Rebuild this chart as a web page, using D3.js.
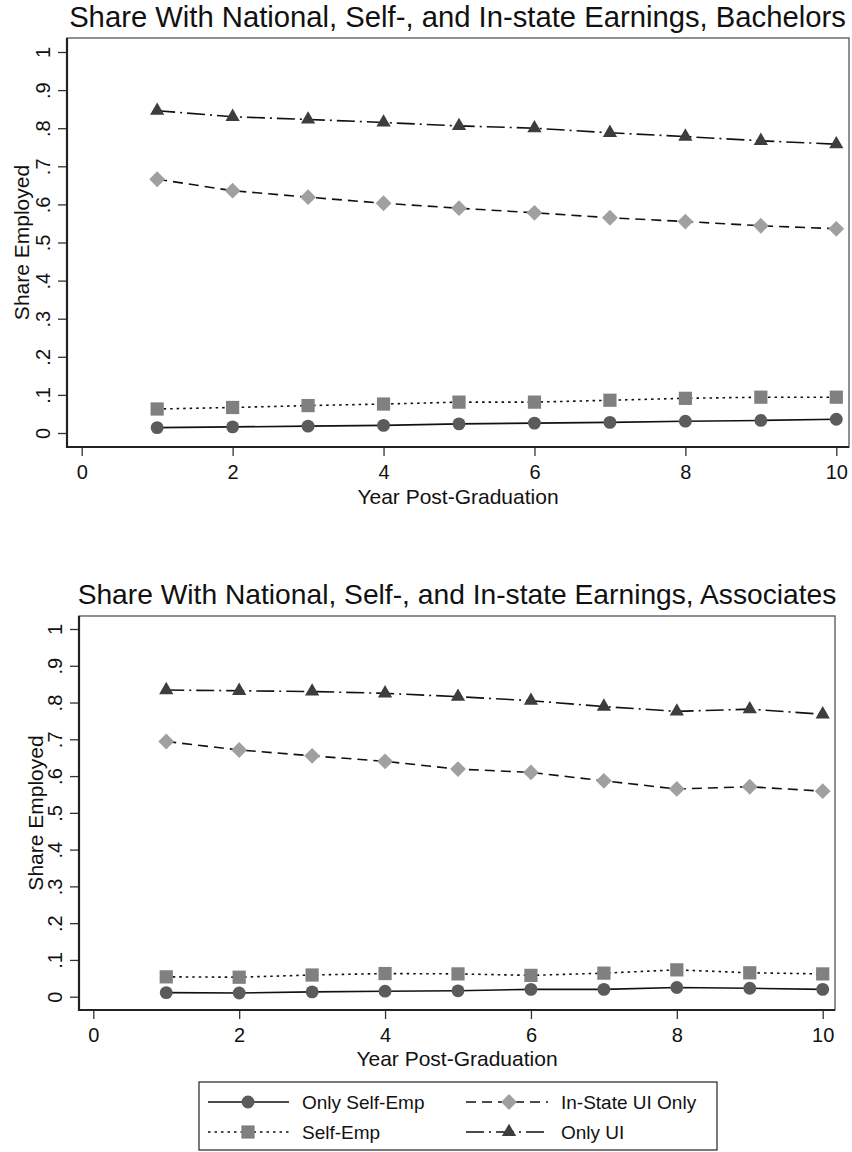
<!DOCTYPE html>
<html><head><meta charset="utf-8">
<script src="https://cdn.jsdelivr.net/npm/d3@7"></script>
<style>
body{margin:0;background:#fff}
svg{display:block}
text{font-family:"Liberation Sans",Arial,sans-serif;fill:#111}
</style>
</head><body>
<svg id="c" width="852" height="1152"></svg>
<script>
// ---------------- DATA ----------------
const years = [1, 2, 3, 4, 5, 6, 7, 8, 9, 10];
const xTicks = [0, 2, 4, 6, 8, 10];
const yTicks = [0, 0.1, 0.2, 0.3, 0.4, 0.5, 0.6, 0.7, 0.8, 0.9, 1];
const yTickLabels = ["0", ".1", ".2", ".3", ".4", ".5", ".6", ".7", ".8", ".9", "1"];
const seriesNames = ["Only Self-Emp", "Self-Emp", "In-State UI Only", "Only UI"];
const titles = [
  "Share With National, Self-, and In-state Earnings, Bachelors",
  "Share With National, Self-, and In-state Earnings, Associates"
];
const xTitle = "Year Post-Graduation";
const yTitle = "Share Employed";

// Bachelors
const bachOnlySelfEmp = [0.014, 0.016, 0.018, 0.020, 0.024, 0.026, 0.028, 0.031, 0.033, 0.036];
const bachSelfEmp     = [0.063, 0.067, 0.072, 0.076, 0.081, 0.081, 0.086, 0.091, 0.094, 0.094];
const bachInStateUI   = [0.666, 0.636, 0.619, 0.603, 0.590, 0.578, 0.565, 0.555, 0.544, 0.536];
const bachOnlyUI      = [0.846, 0.830, 0.823, 0.815, 0.806, 0.800, 0.788, 0.778, 0.767, 0.758];
// Associates
const assocOnlySelfEmp = [0.011, 0.010, 0.013, 0.015, 0.016, 0.020, 0.020, 0.025, 0.023, 0.020];
const assocSelfEmp     = [0.054, 0.053, 0.059, 0.063, 0.062, 0.058, 0.064, 0.073, 0.065, 0.062];
const assocInStateUI   = [0.694, 0.671, 0.655, 0.640, 0.619, 0.610, 0.587, 0.565, 0.571, 0.559];
const assocOnlyUI      = [0.834, 0.832, 0.830, 0.825, 0.816, 0.805, 0.789, 0.776, 0.782, 0.768];

// ---------------- STYLES ----------------
const styles = [
  {symbol: d3.symbolCircle,   size: 130, fill: "#5b5b5b", dash: null,          rot: 0},
  {symbol: d3.symbolSquare,   size: 175, fill: "#808080", dash: "2.5,4",       rot: 0},
  {symbol: d3.symbolSquare,   size: 125, fill: "#a0a0a0", dash: "10,6",        rot: 45},
  {symbol: d3.symbolTriangle, size: 88,  fill: "#3d3d3d", dash: "18,5,2,5",    rot: 0}
];

const svg = d3.select("#c");

const panels = [
  {title: titles[0], data: [bachOnlySelfEmp, bachSelfEmp, bachInStateUI, bachOnlyUI],
   frame: {l: 67, t: 38, r: 849, b: 447}, xr: [81.7, 836.3], yr: [433, 52],
   titleY: 27, titleW: 777, titleX: 457.5,
   yLabX: 50, xLabY: 479, xTitleY: 504, yTitleX: 29},
  {title: titles[1], data: [assocOnlySelfEmp, assocSelfEmp, assocInStateUI, assocOnlyUI],
   frame: {l: 79, t: 616, r: 835, b: 1010}, xr: [93.3, 822.7], yr: [996.7, 629],
   titleY: 604, titleW: 759, titleX: 457,
   yLabX: 62, xLabY: 1041.5, xTitleY: 1066, yTitleX: 43}
];

function fitText(sel, width) {
  const fs = parseFloat(sel.attr("font-size"));
  const w = sel.node().getComputedTextLength();
  sel.attr("font-size", (fs * width / w).toFixed(2));
}

panels.forEach(p => {
  const g = svg.append("g");
  const x = d3.scaleLinear().domain([0, 10]).range(p.xr);
  const y = d3.scaleLinear().domain([0, 1]).range(p.yr);
  const f = p.frame;

  // title
  const t = g.append("text").attr("x", p.titleX).attr("y", p.titleY)
    .attr("text-anchor", "middle").attr("font-size", 26).text(p.title);
  fitText(t, p.titleW);

  // frame (top/right thin)
  g.append("rect").attr("x", f.l).attr("y", f.t).attr("width", f.r - f.l).attr("height", f.b - f.t)
    .attr("fill", "none").attr("stroke", "#555").attr("stroke-width", 1.3);

  // y axis
  const yAxis = d3.axisLeft(y).tickValues(yTicks).tickSize(9).tickFormat((d, i) => yTickLabels[i]);
  const ya = g.append("g").attr("transform", `translate(${f.l},0)`).call(yAxis);
  ya.select(".domain").remove();
  ya.selectAll(".tick line").attr("stroke", "#333").attr("stroke-width", 1.3);
  ya.selectAll(".tick text").attr("font-size", 20).attr("fill", "#111")
    .attr("font-family", '"Liberation Sans",Arial,sans-serif')
    .attr("x", null).attr("dy", null)
    .attr("text-anchor", "middle")
    .attr("transform", `translate(${p.yLabX - f.l},0) rotate(-90)`)
    .attr("y", 0);

  // x axis
  const xAxis = d3.axisBottom(x).tickValues(xTicks).tickSize(9).tickFormat(d3.format("d"));
  const xa = g.append("g").attr("transform", `translate(0,${f.b})`).call(xAxis);
  xa.select(".domain").remove();
  xa.selectAll(".tick line").attr("stroke", "#333").attr("stroke-width", 1.3);
  xa.selectAll(".tick text").attr("font-size", 20).attr("fill", "#111")
    .attr("font-family", '"Liberation Sans",Arial,sans-serif')
    .attr("dy", null).attr("y", p.xLabY - f.b);

  // axis lines (thicker)
  g.append("line").attr("x1", f.l).attr("x2", f.l).attr("y1", f.t).attr("y2", f.b + 1)
    .attr("stroke", "#222").attr("stroke-width", 2.2);
  g.append("line").attr("x1", f.l - 1).attr("x2", f.r).attr("y1", f.b).attr("y2", f.b)
    .attr("stroke", "#222").attr("stroke-width", 2.2);

  // axis titles
  g.append("text").attr("x", (f.l + f.r) / 2).attr("y", p.xTitleY)
    .attr("text-anchor", "middle").attr("font-size", 21).text(xTitle);
  g.append("text").attr("transform", `translate(${p.yTitleX},${(f.t + f.b) / 2}) rotate(-90)`)
    .attr("text-anchor", "middle").attr("font-size", 21).text(yTitle);

  // series
  p.data.forEach((vals, si) => {
    const st = styles[si];
    const pts = years.map((yr, i) => [x(yr), y(vals[i])]);
    g.append("path").attr("d", d3.line()(pts)).attr("fill", "none")
      .attr("stroke", "#111").attr("stroke-width", 1.6)
      .attr("stroke-dasharray", st.dash);
    g.selectAll(null).data(pts).enter().append("path")
      .attr("d", d3.symbol().type(st.symbol).size(st.size)())
      .attr("transform", d => `translate(${d[0]},${d[1]}) rotate(${st.rot})`)
      .attr("fill", st.fill);
  });
});

// ---------------- LEGEND ----------------
const lg = svg.append("g");
lg.append("rect").attr("x", 199).attr("y", 1082).attr("width", 518).attr("height", 68)
  .attr("fill", "#fff").attr("stroke", "#333").attr("stroke-width", 1.3);
const legPos = [
  {x1: 208, x2: 289, mx: 248, tx: 302, y: 1102},
  {x1: 208, x2: 289, mx: 248, tx: 302, y: 1132},
  {x1: 466, x2: 548, mx: 509, tx: 561, y: 1102},
  {x1: 466, x2: 548, mx: 509, tx: 561, y: 1132}
];
seriesNames.forEach((name, i) => {
  const st = styles[i], lp = legPos[i];
  lg.append("line").attr("x1", lp.x1).attr("x2", lp.x2).attr("y1", lp.y).attr("y2", lp.y)
    .attr("stroke", "#111").attr("stroke-width", 1.6).attr("stroke-dasharray", st.dash);
  lg.append("path").attr("d", d3.symbol().type(st.symbol).size(st.size)())
    .attr("transform", `translate(${lp.mx},${lp.y}) rotate(${st.rot})`).attr("fill", st.fill);
  lg.append("text").attr("x", lp.tx).attr("y", lp.y + 6.5).attr("font-size", 19).text(name);
});
</script>
</body></html>
